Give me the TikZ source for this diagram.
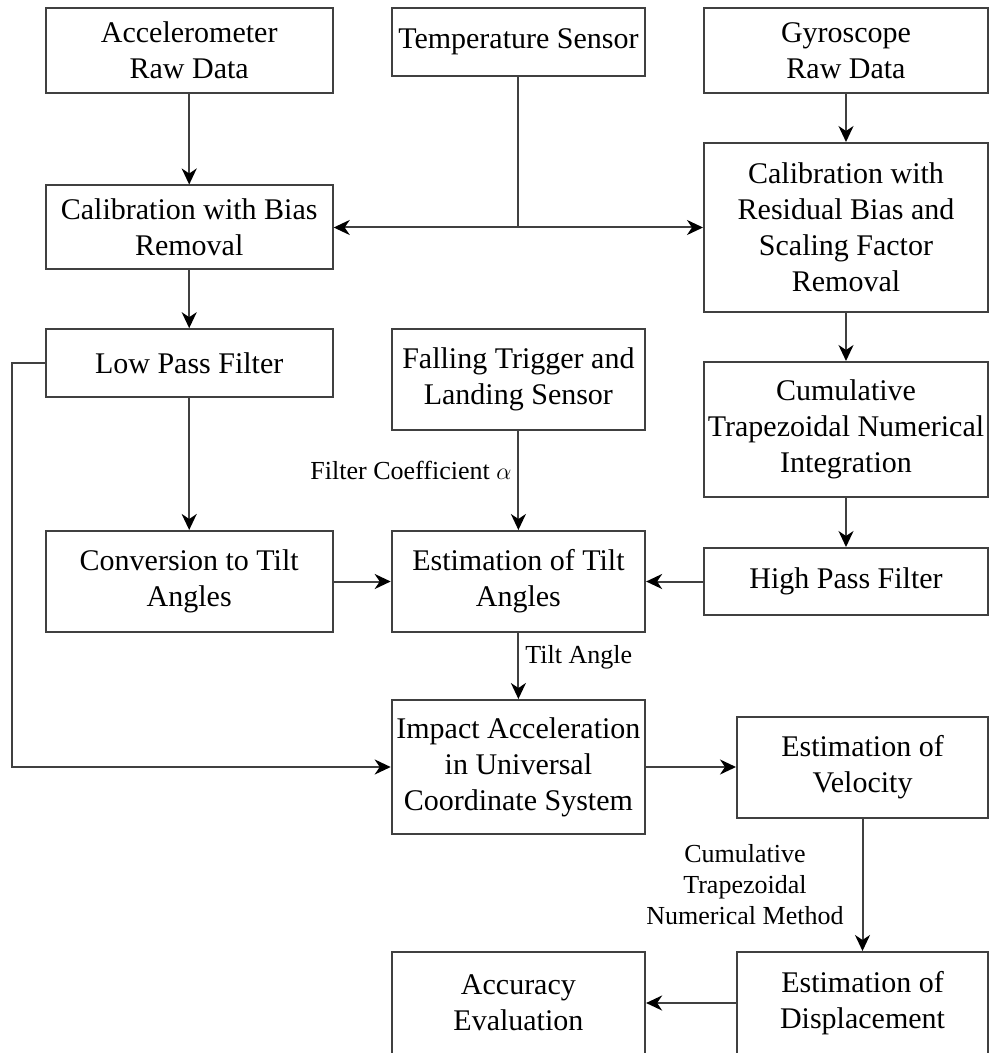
\documentclass[tikz,border=0pt]{standalone}
\usepackage{fontspec}
\setmainfont{Liberation Serif}
\usetikzlibrary{arrows.meta}

\begin{document}
\begin{tikzpicture}[x=0.5pt, y=-0.5pt,
  wire/.style={draw=black!75, line width=1pt},
  arr/.style={wire, -{Stealth[length=8pt, width=7.5pt, inset=2.5pt, black]}},
  blk/.style={draw=black!75, line width=1pt, inner sep=0pt, align=center,
    font=\fontsize{15}{18}\selectfont},
  lbl/.style={font=\fontsize{13}{15.5}\selectfont, align=center, inner sep=3pt}]
\useasboundingbox (0,0) rectangle (990,1053);
% first row
\node[blk, minimum width=143.5pt, minimum height=42.3pt] (accraw) at (189.2, 50.3) {Accelerometer\\Raw Data};
\node[blk, minimum width=126.7pt, minimum height=34pt] (temp) at (518.4, 42) {Temperature Sensor};
\node[blk, minimum width=142pt, minimum height=42.5pt] (gyroraw) at (846, 50.5) {Gyroscope\\Raw Data};
% calibration
\node[blk, minimum width=143.5pt, minimum height=42pt] (calacc) at (189.2, 227.5) {Calibration with Bias\\Removal};
\node[blk, minimum width=142pt, minimum height=84.5pt] (calgyro) at (846, 227.5) {Calibration with\\Residual Bias and\\Scaling Factor\\Removal};
% filters
\node[blk, minimum width=143.5pt, minimum height=33.8pt] (lpf) at (189.2, 363) {Low Pass Filter};
\node[blk, minimum width=126.7pt, minimum height=50.5pt] (fall) at (518.4, 379.5) {Falling Trigger and\\Landing Sensor};
\node[blk, minimum width=142pt, minimum height=67.5pt] (cumint) at (846, 429.5) {Cumulative\\Trapezoidal Numerical\\Integration};
% tilt
\node[blk, minimum width=143.5pt, minimum height=50.5pt] (conv) at (189.2, 581.5) {Conversion to Tilt\\Angles};
\node[blk, minimum width=126.7pt, minimum height=50.5pt] (esttilt) at (518.4, 581.5) {Estimation of Tilt\\Angles};
\node[blk, minimum width=142pt, minimum height=33.5pt] (hpf) at (846, 581.5) {High Pass Filter};
% impact, velocity, displacement
\node[blk, minimum width=126.7pt, minimum height=67pt] (impact) at (518.4, 767) {Impact Acceleration\\in Universal\\Coordinate System};
\node[blk, minimum width=125.5pt, minimum height=50.5pt] (vel) at (862.5, 767) {Estimation of\\Velocity};
\node[blk, minimum width=126.7pt, minimum height=51pt] (acceval) at (518.4, 1003) {Accuracy\\Evaluation};
\node[blk, minimum width=125.5pt, minimum height=51pt] (disp) at (862.5, 1003) {Estimation of\\Displacement};
% connectors
\coordinate (tj) at (temp |- calacc);
\coordinate (fb) at (12, 767);
\draw[arr] (accraw) -- (calacc);
\draw[wire] (temp) -- (tj);
\draw[arr] (tj) -- (calacc);
\draw[arr] (tj) -- (calgyro);
\draw[arr] (gyroraw) -- (calgyro);
\draw[arr] (calacc) -- (lpf);
\draw[arr] (calgyro) -- (cumint);
\draw[arr] (lpf) -- (conv);
\draw[arr] (cumint) -- (hpf);
\draw[arr] (fall) -- node[lbl, pos=0.4, left] {Filter Coefficient $\alpha$} (esttilt);
\draw[arr] (conv) -- (esttilt);
\draw[arr] (hpf) -- (esttilt);
\draw[arr] (esttilt) -- node[lbl, pos=0.37, right] {Tilt Angle} (impact);
\draw[arr] (lpf.west) -| (fb) -- (impact.west);
\draw[arr] (impact) -- (vel);
\draw[arr] (vel) -- node[lbl, left=6pt] {Cumulative\\Trapezoidal\\Numerical Method} (disp);
\draw[arr] (disp) -- (acceval);
\end{tikzpicture}
\end{document}
